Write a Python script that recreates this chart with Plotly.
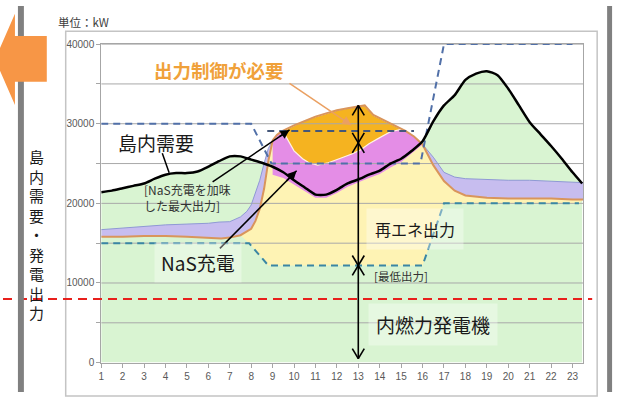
import plotly.graph_objects as go

W, H = 630, 398

# ---------------- data ----------------
hour_ticks = list(range(1, 24))
kw_grid = [0, 5000, 10000, 15000, 20000, 25000, 30000, 35000, 40000]
kw_tick_text = ["0", "", "10000", "", "20000", "", "30000", "", "40000"]

# 島内需要 (island demand)
demand_h = [1, 1.5, 2, 2.5, 3, 3.5, 4, 4.5, 5, 5.5, 6, 6.5, 7, 7.5, 8, 8.5, 9, 9.5, 10, 10.5,
            11, 11.5, 12, 12.5, 13, 13.5, 14, 14.5, 15, 15.5, 16, 16.5, 17, 17.5, 18, 18.5,
            19, 19.5, 20, 20.5, 21, 21.5, 22, 22.5, 23, 23.45]
demand_kw = [21400, 21600, 21900, 22200, 22500, 23100, 23600, 23800, 23800, 24000, 24600, 25300,
             25900, 25900, 25500, 25100, 24600, 23900, 22900, 22000, 21100, 21100, 21700, 22500,
             23000, 23600, 24100, 25000, 25600, 26600, 27800, 30300, 32300, 33600, 35500, 36300,
             36600, 36100, 34400, 32300, 30200, 28700, 27200, 25600, 23900, 22500]

# 再エネ出力 top (renewable output, brown outline)
renew_h = [1, 2, 3, 4, 5, 6, 6.6, 7, 7.5, 8, 8.2, 8.4, 8.6, 8.8, 9.0, 9.2, 9.4, 10, 10.5, 11,
           11.5, 12, 12.5, 13, 13.3, 13.7, 14, 14.5, 15, 15.2, 15.6, 16, 16.5, 17, 17.5, 18,
           19, 20, 21, 22, 23, 23.5]
renew_kw = [15800, 15800, 15900, 15900, 15800, 15700, 15600, 15700, 16000, 16800, 17800, 19300,
            21800, 25300, 27900, 28600, 29000, 29800, 30400, 30900, 31300, 31700, 31950, 32200,
            32300, 31100, 30700, 30100, 29400, 29100, 28400, 27400, 24800, 22800, 21600, 21000,
            20700, 20600, 20600, 20600, 20500, 20500]

# lavender band top
lav_h = [1, 2, 3, 4, 5, 6, 6.5, 7, 7.5, 7.8, 8.0, 8.2, 8.4, 8.6, 8.8, 9.0,
         16, 16.5, 17, 17.5, 18, 19, 20, 21, 22, 23, 23.5]
lav_kw = [16700, 16900, 17100, 17300, 17400, 17500, 17650, 17700, 18300, 19000, 19800, 21300,
          22900, 25000, 26900, 27900,
          27400, 25800, 23900, 23300, 23100, 23000, 22900, 22900, 22800, 22700, 22600]

# NaS充電 (magenta) lower edge
nas_h = [9.0, 9.5, 10, 10.5, 11, 11.5, 12, 12.5, 13, 13.5, 14, 14.5, 15, 15.5, 16.0]
nas_kw = [23600, 23200, 22400, 21500, 20700, 20700, 21300, 22100, 22700, 23200, 23700, 24500,
          25200, 26300, 27400]

# 出力制御が必要 (curtailment, amber) lower edge
curt_h = [9.4, 9.6, 10.0, 10.4, 10.7, 11.1, 11.6, 12.2, 12.7, 13.1, 13.5, 13.9, 14.5, 15.0, 15.2]
curt_kw = [29000, 28500, 26600, 25600, 25100, 24800, 25100, 25700, 26200, 26700, 27500, 28100,
           29000, 29300, 29100]

# 最低出力 (minimum output)
min_h = [1, 7.9, 8.8, 16.0, 17.0, 23.3]
min_kw = [15000, 15000, 12200, 12200, 20000, 20000]

# 最大出力 (maximum output)
max_h = [1, 8.0, 8.95, 15.9, 17.0, 23.0]
max_kw = [30000, 30000, 25000, 25000, 40000, 40000]

# NaS充電を加味した最大出力
nasmax_h = [8.75, 15.6]
nasmax_kw = [29100, 29100]

# vertical double arrows at hour 13
arrow_hour = 13
arrow_levels = [500, 12200, 27600, 32300]

red_level = 8000

# ---------------- colours ----------------
C_GREEN = "#d9f4d2"
C_YELLOW = "#fef3b4"
C_LAV = "#c7bdef"
C_MAG = "#e48de6"
C_AMBER = "#f5b320"
C_BROWN = "#d9955c"
C_DASH1 = "#5170a8"
C_DASH2 = "#3a86a4"
JP = "Noto Sans CJK JP"


def px(x):
    return x / W


def py(y):
    return 1 - y / H


fig = go.Figure()


def poly(top_h, top_v, bot_h, bot_v, color, line=None):
    xs = list(top_h) + list(bot_h)[::-1]
    ys = list(top_v) + list(bot_v)[::-1]
    fig.add_trace(go.Scatter(x=xs, y=ys, fill="toself", fillcolor=color, mode="lines",
                             line=line or dict(width=0), hoverinfo="skip"))


def sel(hs, vs, lo, hi):
    return ([h for h in hs if lo <= h <= hi], [v for h, v in zip(hs, vs) if lo <= h <= hi])


# green (internal combustion) under demand
fig.add_trace(go.Scatter(x=demand_h, y=demand_kw, fill="tozeroy", fillcolor=C_GREEN,
                         mode="lines", line=dict(width=0), hoverinfo="skip"))
# yellow renewables between min output and renewable top (from the morning ramp on)
th, tv = sel(renew_h, renew_kw, 7.5, 24)
bh, bv = sel(min_h, min_kw, 7.9, 24)
poly(th, tv, bh, bv, C_YELLOW)

# lavender pieces
for lo, hi in [(0, 9.0), (16.0, 24)]:
    th, tv = sel(lav_h, lav_kw, lo, hi)
    bh, bv = sel(renew_h, renew_kw, lo, hi)
    poly(th, tv, bh, bv, C_LAV)

# magenta NaS charge
th, tv = sel(renew_h, renew_kw, nas_h[0], nas_h[-1])
poly(th, tv, nas_h, nas_kw, C_MAG)

# amber curtailment
th, tv = sel(renew_h, renew_kw, curt_h[0], curt_h[-1])
poly(th, tv, curt_h, curt_kw, C_AMBER, line=dict(width=1.2, color="rgba(255,244,228,1)"))

# gridlines above the fills
gx, gy = [], []
for g in kw_grid[1:]:
    gx += [1, 23.5, None]
    gy += [g, g, None]
fig.add_trace(go.Scatter(x=gx, y=gy, mode="lines", line=dict(color="#a8a8a8", width=1),
                         hoverinfo="skip"))

# lavender top outline
for lo, hi in [(0, 9.0), (16.0, 24)]:
    th, tv = sel(lav_h, lav_kw, lo, hi)
    fig.add_trace(go.Scatter(x=th, y=tv, mode="lines", line=dict(color="#8f99d4", width=1),
                             hoverinfo="skip"))

# brown renewable outline
fig.add_trace(go.Scatter(x=renew_h, y=renew_kw, mode="lines",
                         line=dict(color=C_BROWN, width=2), hoverinfo="skip"))

# dashed lines
fig.add_trace(go.Scatter(x=max_h, y=max_kw, mode="lines",
                         line=dict(color=C_DASH1, width=2, dash="7px,5px"), hoverinfo="skip"))
fig.add_trace(go.Scatter(x=nasmax_h, y=nasmax_kw, mode="lines",
                         line=dict(color="#44577a", width=2, dash="7px,5px"), hoverinfo="skip"))
fig.add_trace(go.Scatter(x=min_h, y=min_kw, mode="lines",
                         line=dict(color=C_DASH2, width=2, dash="7px,5px"), hoverinfo="skip"))

# demand line
fig.add_trace(go.Scatter(x=demand_h, y=demand_kw, mode="lines",
                         line=dict(color="#000000", width=2.5, shape="spline", smoothing=0.6),
                         hoverinfo="skip"))

shapes = []
# vertical double arrows
shapes.append(dict(type="line", xref="x", yref="y", x0=arrow_hour, x1=arrow_hour,
                   y0=arrow_levels[0], y1=arrow_levels[-1], line=dict(color="black", width=1.6)))
hw, hh = 0.28, 1250
for lo, hi in zip(arrow_levels[:-1], arrow_levels[1:]):
    for tip, d in [(lo, 1), (hi, -1)]:
        for s in (-1, 1):
            shapes.append(dict(type="line", xref="x", yref="y", x0=arrow_hour + s * hw,
                               y0=tip + d * hh, x1=arrow_hour, y1=tip,
                               line=dict(color="black", width=1.6)))

# red dashed line
shapes.append(dict(type="line", xref="paper", yref="y", x0=0, x1=px(592), y0=red_level,
                   y1=red_level, line=dict(color="#e8201c", width=2, dash="9px,6px"),
                   layer="above"))

# outer frame and side bars
shapes.append(dict(type="rect", xref="paper", yref="paper", x0=px(63), x1=px(597), y0=py(402),
                   y1=py(26), line=dict(color="#c4c4c4", width=1.5), layer="below"))
shapes.append(dict(type="rect", xref="paper", yref="paper", x0=px(15), x1=px(21), y0=0, y1=1,
                   fillcolor="#808080", line=dict(width=0)))
shapes.append(dict(type="rect", xref="paper", yref="paper", x0=px(607), x1=px(612), y0=0, y1=1,
                   fillcolor="#808080", line=dict(width=0)))
# orange left arrow
pts = [(12, 8), (12, 31), (44, 31), (44, 78), (12, 78), (12, 102), (-8, 55)]
path = "M " + " L ".join(f"{px(a):.5f},{py(b):.5f}" for a, b in pts) + " Z"
shapes.append(dict(type="path", xref="paper", yref="paper", path=path, fillcolor="#f79646",
                   line=dict(width=0)))

# arrow lines (tail -> head, data coordinates)
arrow_lines = [
    ((9.79, 35070), (12.67, 29830), "#eaa062"),
    ((3.85, 26300), (4.17, 23850), "black"),
    ((6.2, 22700), (9.79, 29220), "black"),
    ((6.54, 14350), (10.12, 24100), "black"),
]
for (tx, ty), (hx, hy), col in arrow_lines:
    shapes.append(dict(type="line", xref="x", yref="y", x0=tx, y0=ty, x1=hx, y1=hy,
                       line=dict(color=col, width=1.5)))

ann = []


def label(text, x, y, size, color="#1a1a1a", bold=False, bg=None, pad=1, xanchor="center",
          xref="x", yref="y"):
    ann.append(dict(text=f"<b>{text}</b>" if bold else text, x=x, y=y, xref=xref, yref=yref,
                    showarrow=False, xanchor=xanchor, yanchor="middle",
                    font=dict(family=JP, size=size, color=color),
                    bgcolor=bg or "rgba(0,0,0,0)", borderpad=pad))


# arrowheads only (tiny arrows ending at each head along the line direction)
for (tx, ty), (hx, hy), col in arrow_lines:
    ann.append(dict(text="", x=hx, y=hy, ax=hx - (hx - tx) * 0.15, ay=hy - (hy - ty) * 0.15,
                    xref="x", yref="y", axref="x", ayref="y", showarrow=True, arrowhead=2,
                    arrowsize=1.2, arrowwidth=1.5, arrowcolor=col, standoff=0))

label("出力制御が必要", 6.5, 36800, 18.5, color="#f0a13a", bold=True)
label("島内需要", 3.57, 27640, 19)
label("[NaS充電を加味", 2.95, 21780, 12, color="#333333", xanchor="left", pad=0)
label("した最大出力]", 2.95, 19710, 12, color="#333333", xanchor="left", pad=0)
label("NaS充電", 5.53, 12520, 19, bg="rgba(255,255,255,0.35)", pad=6)
label("再エネ出力", 15.65, 16790, 16, bg="rgba(255,255,255,0.35)", pad=8)
label("[最低出力]", 14.99, 10940, 11.5, color="#333333")
label("内燃力発電機", 16.48, 4840, 19, bg="rgba(255,255,255,0.35)", pad=7)
label("[最大出力]", 20.85, 40950, 11.5, color="#333333", bg="white")
label("単位：kW", px(81), py(16), 11.5, color="#404040", xref="paper", yref="paper")
label("<br>".join("島内需要・発電出力"), px(34), py(236), 15, xref="paper", yref="paper")

fig.update_layout(
    width=W, height=H, margin=dict(l=0, r=0, t=0, b=0),
    paper_bgcolor="white", plot_bgcolor="white", showlegend=False,
    shapes=shapes, annotations=ann,
    xaxis=dict(domain=[98.7 / W, 583 / W], range=[1, 23.5], tickvals=hour_ticks,
               showgrid=False, zeroline=False, ticks="outside", ticklen=4,
               tickcolor="#a6a6a6", showline=True, linecolor="#a6a6a6", mirror=True,
               tickfont=dict(family="Liberation Sans", size=10, color="#595959")),
    yaxis=dict(domain=[(H - 367.7) / H, (H - 39.3) / H], range=[0, 40000], tickvals=kw_grid,
               ticktext=kw_tick_text, showgrid=False, zeroline=False, ticks="outside",
               ticklen=4, tickcolor="#a6a6a6", showline=True, linecolor="#a6a6a6",
               mirror=True, tickfont=dict(family="Liberation Sans", size=10, color="#595959")),
)

fig.write_html("out.html")
